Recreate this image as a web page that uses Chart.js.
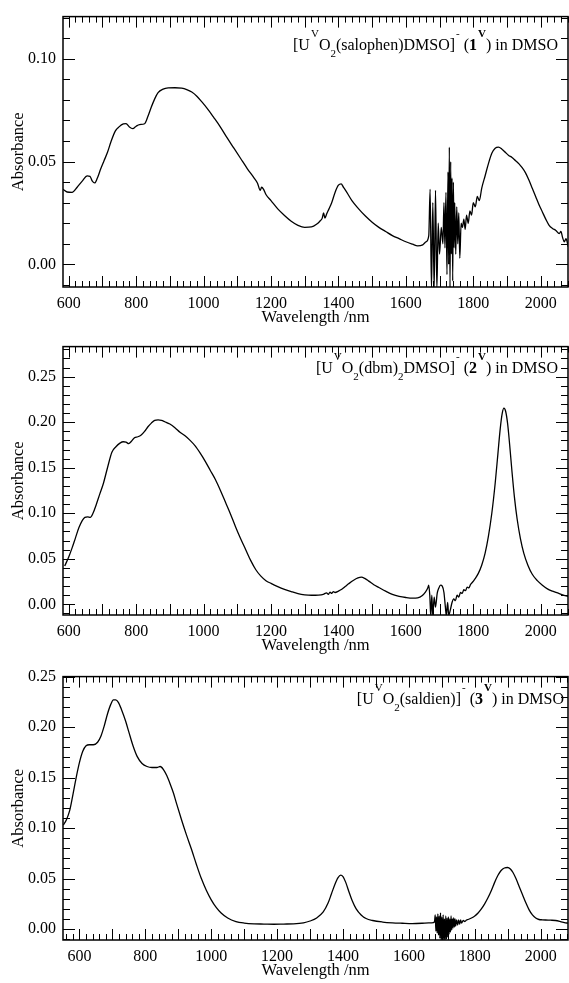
<!DOCTYPE html>
<html><head><meta charset="utf-8">
<script src="https://cdn.jsdelivr.net/npm/chart.js@4"></script>
<style>
html,body{margin:0;padding:0;background:#fff;}
#wrap{position:relative;width:569px;height:983px;overflow:hidden;background:#fff;}
canvas{position:absolute;left:0;}
.ann{position:absolute;font-family:'Liberation Serif','Times New Roman',serif;font-size:16px;line-height:16px;white-space:nowrap;color:#000;}
.sup{font-size:11px;position:relative;top:-13px;margin-left:1px;}
.sub{font-size:11px;position:relative;top:7px;}
</style></head><body>
<div id="wrap">
<canvas id="c1" width="569" height="330" style="top:0px"></canvas>
<canvas id="c2" width="569" height="330" style="top:330px"></canvas>
<canvas id="c3" width="569" height="323" style="top:660px"></canvas>
<div class="ann" style="right:11px;top:37px">[U<span class="sup">V</span>O<span class="sub">2</span>(salophen)DMSO]<span class="sup">-</span> (<b>1</b><span class="sup"><b>V</b></span>) in DMSO</div>
<div class="ann" style="right:11px;top:360px">[U<span class="sup">V</span>O<span class="sub">2</span>(dbm)<span class="sub">2</span>DMSO]<span class="sup">-</span> (<b>2</b><span class="sup"><b>V</b></span>) in DMSO</div>
<div class="ann" style="right:5px;top:691px">[U<span class="sup">V</span>O<span class="sub">2</span>(saldien)]<span class="sup">-</span> (<b>3</b><span class="sup"><b>V</b></span>) in DMSO</div>
</div>
<script>
// ---------- Panel 1: [UVO2(salophen)DMSO]- ----------
const wl1 = [583,595,610,625,640,655,663,670,677,685,695,705,715,725,738,750,762,770,780,790,800,810,825,835,845,855,865,880,895,915,935,950,965,980,995,1010,1030,1050,1070,1090,1110,1130,1150,1160,1168,1172,1178,1185,1200,1220,1240,1260,1280,1300,1320,1335,1345,1352,1356,1360,1365,1372,1380,1390,1400,1408,1415,1425,1440,1460,1480,1500,1520,1540,1560,1580,1600,1620,1635,1650,1660,1668,1672,1676,1680,1684,1688,1692,1696,1700,1705,1710,1713,1716,1719,1722,1725,1727,1729,1731,1733,1735,1737,1739,1741,1743,1745,1748,1751,1754,1757,1760,1764,1768,1772,1776,1780,1785,1790,1795,1800,1806,1812,1818,1825,1835,1845,1855,1865,1875,1885,1895,1905,1915,1925,1935,1945,1955,1965,1975,1985,1995,2005,2015,2025,2035,2045,2055,2060,2065,2070,2075,2082];
const abs1 = [0.0365,0.0352,0.0350,0.0375,0.0405,0.0430,0.0428,0.0405,0.0396,0.0420,0.0465,0.0505,0.0545,0.0595,0.0648,0.0670,0.0683,0.0685,0.0668,0.0660,0.0672,0.0680,0.0684,0.0720,0.0765,0.0805,0.0835,0.0852,0.0858,0.0859,0.0857,0.0850,0.0838,0.0818,0.0790,0.0760,0.0715,0.0668,0.0615,0.0565,0.0515,0.0465,0.0420,0.0395,0.0360,0.0375,0.0365,0.0340,0.0310,0.0270,0.0238,0.0210,0.0190,0.0180,0.0182,0.0195,0.0210,0.0225,0.0250,0.0225,0.0245,0.0270,0.0300,0.0350,0.0385,0.0392,0.0375,0.0350,0.0310,0.0270,0.0235,0.0205,0.0180,0.0160,0.0140,0.0125,0.0110,0.0098,0.0090,0.0095,0.0110,0.0140,0.0365,-0.012,0.030,-0.012,0.036,-0.012,0.020,0.005,0.018,0.010,0.030,0.008,0.035,-0.005,0.045,0.000,0.057,-0.012,0.050,0.005,0.042,-0.008,0.040,0.008,0.030,0.005,0.028,0.010,0.025,0.003,0.020,0.018,0.022,0.017,0.024,0.020,0.026,0.024,0.030,0.028,0.033,0.031,0.037,0.043,0.049,0.054,0.0565,0.0570,0.0560,0.0545,0.0530,0.0520,0.0505,0.0490,0.0470,0.0445,0.0410,0.0370,0.0330,0.0290,0.0255,0.0220,0.0190,0.0175,0.0165,0.0150,0.0160,0.0130,0.0110,0.0125,0.0085];

// ---------- Panel 2: [UVO2(dbm)2DMSO]- ----------
const wl2 = [588,600,610,620,630,640,648,656,664,672,682,692,703,715,728,740,752,762,770,778,786,795,805,815,825,835,845,855,865,875,885,900,915,930,945,960,975,990,1005,1020,1035,1050,1065,1080,1095,1110,1125,1140,1155,1170,1185,1200,1220,1240,1260,1280,1300,1320,1340,1355,1365,1370,1375,1380,1385,1390,1400,1410,1420,1430,1445,1458,1468,1478,1490,1505,1520,1540,1560,1580,1600,1620,1635,1648,1658,1665,1668,1671,1674,1677,1680,1684,1688,1693,1698,1703,1708,1713,1717,1720,1724,1727,1732,1737,1742,1747,1752,1757,1762,1767,1772,1777,1782,1787,1792,1797,1805,1815,1825,1835,1845,1855,1865,1873,1880,1886,1891,1896,1902,1908,1915,1922,1930,1940,1950,1962,1975,1990,2005,2020,2035,2050,2065,2081];
const abs2 = [0.042,0.052,0.062,0.073,0.084,0.092,0.0955,0.0960,0.0955,0.1000,0.1100,0.1210,0.1330,0.1500,0.1670,0.1730,0.1770,0.1785,0.1780,0.1765,0.1790,0.1830,0.1840,0.1860,0.1900,0.1950,0.1990,0.2020,0.2025,0.2020,0.2005,0.1980,0.1940,0.1890,0.1850,0.1800,0.1740,0.1660,0.1570,0.1470,0.1370,0.1250,0.1120,0.0990,0.0850,0.0720,0.0600,0.0480,0.0380,0.0310,0.0260,0.0230,0.0195,0.0165,0.0140,0.0118,0.0105,0.0100,0.0102,0.0110,0.0125,0.0110,0.0135,0.0120,0.0140,0.0130,0.0145,0.0165,0.0195,0.0225,0.0265,0.0290,0.0298,0.0285,0.0255,0.0215,0.0185,0.0145,0.0110,0.0088,0.0075,0.0068,0.0072,0.0095,0.0135,0.0180,0.0210,0.0100,-0.012,0.010,-0.012,0.008,-0.003,0.012,0.018,0.021,0.020,0.013,-0.002,-0.012,0.002,-0.012,-0.006,0.002,0.006,0.004,0.010,0.008,0.013,0.012,0.016,0.015,0.019,0.018,0.022,0.024,0.028,0.034,0.043,0.056,0.075,0.100,0.133,0.165,0.193,0.210,0.2155,0.212,0.198,0.175,0.145,0.118,0.094,0.072,0.056,0.043,0.033,0.026,0.021,0.017,0.0145,0.0125,0.0105,0.0085];

// ---------- Panel 3: [UVO2(saldien)]- ----------
const wl3 = [551,560,570,580,590,600,610,620,630,642,655,665,675,685,695,703,710,718,728,740,750,762,775,790,805,820,835,845,855,865,875,885,895,910,925,940,955,970,985,1000,1015,1030,1050,1075,1100,1130,1160,1190,1220,1250,1280,1300,1320,1340,1355,1365,1375,1385,1393,1400,1408,1418,1428,1440,1455,1470,1490,1520,1550,1580,1610,1640,1660,1675,1678,1680,1682,1684,1686,1688,1690,1692,1694,1696,1698,1700,1702,1704,1706,1708,1710,1712,1714,1716,1718,1720,1722,1724,1726,1728,1730,1732,1734,1736,1738,1740,1742,1745,1748,1751,1754,1757,1760,1765,1770,1775,1780,1790,1800,1810,1820,1830,1840,1850,1860,1870,1880,1890,1900,1908,1916,1925,1935,1945,1955,1965,1975,1985,1995,2005,2015,2030,2045,2060,2072,2083];
const abs3 = [0.103,0.108,0.117,0.133,0.150,0.165,0.176,0.1815,0.1825,0.1825,0.1850,0.1910,0.2010,0.2130,0.2225,0.2270,0.2270,0.2245,0.2170,0.2060,0.1950,0.1820,0.1710,0.1640,0.1610,0.1600,0.1600,0.1610,0.1580,0.1520,0.1440,0.1350,0.1240,0.1080,0.0930,0.0790,0.0640,0.0500,0.0385,0.0290,0.0215,0.0160,0.0110,0.0075,0.0060,0.0052,0.0050,0.0048,0.0050,0.0052,0.0062,0.0080,0.0110,0.0170,0.0260,0.0350,0.0440,0.0510,0.0535,0.0520,0.0465,0.0370,0.0280,0.0200,0.0140,0.0105,0.0085,0.0070,0.0062,0.0058,0.0055,0.0058,0.0062,0.0065,0.008,0.014,-0.002,0.012,-0.004,0.015,-0.006,0.013,-0.009,0.016,-0.011,0.012,-0.012,0.014,-0.012,0.010,-0.012,0.013,-0.010,0.011,-0.008,0.012,-0.005,0.010,-0.003,0.013,-0.001,0.010,0.001,0.011,0.002,0.010,0.003,0.009,0.004,0.009,0.005,0.009,0.006,0.0085,0.0075,0.009,0.0095,0.011,0.013,0.016,0.020,0.025,0.031,0.038,0.046,0.053,0.058,0.0605,0.0610,0.0595,0.0560,0.0500,0.0420,0.0340,0.0260,0.0190,0.0140,0.0110,0.0095,0.0092,0.0090,0.0088,0.0085,0.0075,0.0065,0.0058];

// ---------- Tick labels ----------
const xLabels12 = [600,800,1000,1200,1400,1600,1800,2000];
const xLabels3 = [600,800,1000,1200,1400,1600,1800,2000];
const yLabels1 = [0.00,0.05,0.10];
const yLabels2 = [0.00,0.05,0.10,0.15,0.20,0.25];
const yLabels3 = [0.00,0.05,0.10,0.15,0.20,0.25];

Chart.defaults.font.family = "'Liberation Serif','Times New Roman',serif";
Chart.defaults.color = '#000';

const framePlugin = {
  id: 'frame',
  afterDatasetsDraw(chart) {
    const {ctx, chartArea: a, scales: {x, y}} = chart;
    ctx.save();
    ctx.strokeStyle = '#000';
    ctx.lineWidth = 1;
    ctx.beginPath();
    const x0 = Math.ceil(x.min / 20) * 20;
    for (let v = x0; v <= x.max; v += 20) {
      const px = Math.round(x.getPixelForValue(v)) + 0.5;
      const len = v % 100 === 0 ? 11 : 6;
      ctx.moveTo(px, a.bottom); ctx.lineTo(px, a.bottom - len);
      ctx.moveTo(px, a.top); ctx.lineTo(px, a.top + len);
    }
    const k0 = Math.ceil(y.min * 100 - 1e-6), k1 = Math.floor(y.max * 100 + 1e-6);
    for (let k = k0; k <= k1; k++) {
      const py = Math.round(y.getPixelForValue(k / 100)) + 0.5;
      const len = k % 5 === 0 ? 12 : 7;
      ctx.moveTo(a.left, py); ctx.lineTo(a.left + len, py);
      ctx.moveTo(a.right, py); ctx.lineTo(a.right - len, py);
    }
    ctx.stroke();
    ctx.lineWidth = 1.5;
    ctx.strokeRect(a.left, a.top, a.right - a.left, a.bottom - a.top);
    ctx.restore();
  }
};

function makeChart(id, wl, ab, xMin, xMax, yMin, yMax, xLabels, yLabels, padTop, padBottom) {
  const pts = wl.map((w, i) => ({x: w, y: ab[i]}));
  return new Chart(document.getElementById(id), {
    type: 'line',
    data: {datasets: [{data: pts, borderColor: '#000', borderWidth: 1.3, pointRadius: 0, fill: false, cubicInterpolationMode: 'monotone'}]},
    options: {
      responsive: false, animation: false, devicePixelRatio: 1,
      layout: {padding: {top: padTop, bottom: padBottom, left: 0, right: 1}},
      plugins: {legend: {display: false}, tooltip: {enabled: false}},
      scales: {
        x: {
          type: 'linear', position: 'bottom', min: xMin, max: xMax,
          grid: {display: false, drawTicks: false}, border: {display: false},
          ticks: {font: {size: 16}, color: '#000', padding: 7, maxRotation: 0, autoSkip: false, callback: v => String(v)},
          afterBuildTicks: s => { s.ticks = xLabels.map(v => ({value: v})); },
          title: {display: true, text: 'Wavelength /nm', font: {size: 16.5}, color: '#000', padding: {top: 0, bottom: 2}},
          afterFit: s => { s.height = 43; }
        },
        y: {
          type: 'linear', position: 'left', min: yMin, max: yMax,
          grid: {display: false, drawTicks: false}, border: {display: false},
          ticks: {font: {size: 16}, color: '#000', padding: 7, autoSkip: false, callback: v => Number(v).toFixed(2)},
          afterBuildTicks: s => { s.ticks = yLabels.map(v => ({value: v})); },
          title: {display: true, text: 'Absorbance', font: {size: 16.5}, color: '#000', padding: {top: 9, bottom: 0}},
          afterFit: s => { s.width = 63; }
        }
      }
    },
    plugins: [framePlugin]
  });
}

makeChart('c1', wl1, abs1, 583, 2081, -0.011, 0.1205, xLabels12, yLabels1, 15, 0);
makeChart('c2', wl2, abs2, 583, 2081, -0.0117, 0.283, xLabels12, yLabels2, 8, 2);
makeChart('c3', wl3, abs3, 550, 2083, -0.0108, 0.25, xLabels3, yLabels3, 7, 0);
</script>
</body></html>
